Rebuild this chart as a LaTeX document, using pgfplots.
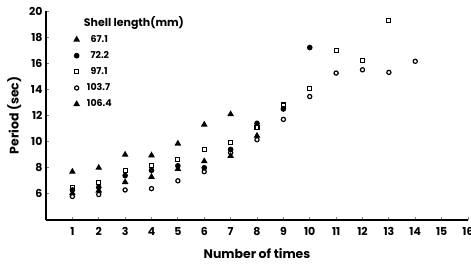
\documentclass[border=0pt]{standalone}
\usepackage{fontspec}
\setmainfont{Poppins}
\usepackage{pgfplots}
\pgfplotsset{compat=1.18}
\usetikzlibrary{calc}
\begin{document}
\begin{tikzpicture}
\begin{axis}[
  scale only axis, width=422bp, height=209bp,
  xmin=0, xmax=16, ymin=4, ymax=20,
  axis x line*=bottom, axis y line*=left,
  axis line style={-, line width=1.3pt},
  xtick={1,...,16}, ytick={6,8,...,20},
  tick align=inside, major tick length=3pt,
  tick style={line width=0.9pt},
  /pgf/number format/assume math mode=true,
  ticklabel style={font=\fontsize{11}{12}\selectfont\bfseries},
  xticklabel style={yshift=-4pt},
  xlabel={Number of times}, ylabel={Period (sec)},
  label style={font=\fontsize{12.5}{13}\selectfont\bfseries},
  xlabel style={yshift=-6pt},
  ylabel style={yshift=1pt},
  legend style={draw=none, fill=none, at={(0.045,0.995)}, anchor=north west,
    font=\fontsize{9.5}{10}\selectfont\bfseries, row sep=3.6pt, cells={anchor=west}},
  legend cell align=left,
  every axis plot/.append style={only marks, black, line width=1.2pt},
]
\addlegendimage{empty legend}
\addlegendentry{\hspace*{3pt}{\fontsize{11}{12}\selectfont Shell length(mm)}}
\addplot[mark=triangle*, mark size=2.7pt] coordinates {
(1,6.05)(2,6.25)(3,6.9)(4,7.3)(5,7.9)(6,8.5)(7,8.9)(8,10.45)};
\addlegendentry{\hspace*{6pt}\hphantom{1}67.1}
\addplot[mark=*, mark size=2.2pt] coordinates {
(1,6.3)(2,6.5)(3,7.4)(4,7.8)(5,8.15)(6,8.0)(7,9.4)(8,11.4)(9,12.5)(10,17.2)};
\addlegendentry{\hspace*{6pt}\hphantom{1}72.2}
\addplot[mark=square, mark size=2.0pt] coordinates {
(1,6.5)(2,6.9)(3,7.8)(4,8.15)(5,8.65)(6,9.4)(7,9.95)(8,11.1)(9,12.8)(10,14.05)(11,17.0)(12,16.2)(13,19.25)};
\addlegendentry{\hspace*{6pt}\hphantom{1}97.1}
\addplot[mark=o, mark size=2.1pt] coordinates {
(1,5.8)(2,5.95)(3,6.3)(4,6.4)(5,7.0)(6,7.7)(7,9.15)(8,10.15)(9,11.7)(10,13.45)(11,15.25)(12,15.5)(13,15.3)(14,16.15)};
\addlegendentry{\hspace*{6pt}103.7}
\addplot[mark=triangle*, mark size=2.7pt] coordinates {
(1,7.7)(2,8.0)(3,9.0)(4,8.95)(5,9.85)(6,11.3)(7,12.1)};
\addlegendentry{\hspace*{6pt}106.4}
\end{axis}
\pgfresetboundingbox
\path[use as bounding box] ($(current axis.south west)+(-46bp,-47bp)$) rectangle ($(current axis.north east)+(3bp,11bp)$);
\end{tikzpicture}
\end{document}
